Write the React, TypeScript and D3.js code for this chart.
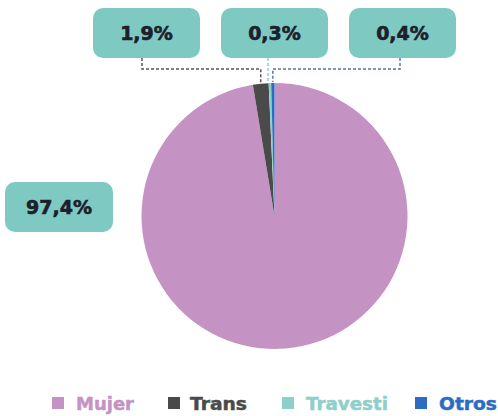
import React from "react";
import * as d3 from "d3";

const categories = ["Mujer", "Trans", "Travesti", "Otros"];
const values = [97.4, 1.9, 0.3, 0.4];
const valueLabels = ["97,4%", "1,9%", "0,3%", "0,4%"];
const colors = ["#c593c3", "#4a4a4a", "#8dd0ca", "#2b6dc2"];
const lineColors = ["#000000", "#555555", "#8dd0ca", "#5a74a8"];

const W = 498;
const H = 416;
const cx = 274.5;
const cy = 216;
const R = 133;

// label boxes (layout)
const boxes = [
  { x: 5, y: 182, w: 108, h: 50, anchorX: null as number | null },
  { x: 93, y: 8, w: 107, h: 50, anchorX: 142 },
  { x: 221, y: 8, w: 107, h: 50, anchorX: 268 },
  { x: 349, y: 8, w: 107, h: 50, anchorX: 400 },
];
const legendSquareX = [52, 168, 282, 415];
const legendTextX = [76, 190, 306, 439];
const legendTextW = [58, 57, 82, 58];

export default function App() {
  const pie = d3
    .pie<number>()
    .sort(null)
    .value((d) => d)
    .startAngle(0)
    .endAngle(2 * Math.PI);
  const arcs = pie(values);
  const arc = d3.arc<d3.PieArcDatum<number>>().innerRadius(0).outerRadius(R);
  const font = "'DejaVu Sans', sans-serif";
  const elbowY = 69;

  return (
    <svg
      width={W}
      height={H}
      style={{ position: "absolute", left: 0, top: 0, background: "#fff" }}
    >
      <g transform={`translate(${cx},${cy})`}>
        {arcs.map((a, i) => (
          <path key={i} d={arc(a) || ""} fill={colors[i]} />
        ))}
      </g>
      {arcs.map((a, i) => {
        const b = boxes[i];
        if (b.anchorX == null) return null;
        const mid = (a.startAngle + a.endAngle) / 2;
        const ex = cx + R * Math.sin(mid);
        const ey = cy - R * Math.cos(mid) - 1;
        const pts =
          Math.abs(b.anchorX - ex) < 3
            ? `${b.anchorX},${b.y + b.h} ${b.anchorX},${ey}`
            : `${b.anchorX},${b.y + b.h} ${b.anchorX},${elbowY} ${ex},${elbowY} ${ex},${ey}`;
        return (
          <polyline
            key={"l" + i}
            points={pts}
            fill="none"
            stroke={lineColors[i]}
            strokeWidth={1.5}
            strokeDasharray="3,2"
          />
        );
      })}
      {boxes.map((b, i) => (
        <g key={"b" + i}>
          <rect x={b.x} y={b.y} width={b.w} height={b.h} rx={10} ry={10} fill="#7fc9c3" />
          <text
            x={b.x + b.w / 2}
            y={b.y + b.h / 2 + 7}
            textAnchor="middle"
            fontFamily={font}
            fontWeight="bold"
            fontSize={19}
            fill="#1c202b"
            stroke="#1c202b"
            strokeWidth={0.6}
          >
            {valueLabels[i]}
          </text>
        </g>
      ))}
      {categories.map((c, i) => (
        <g key={"lg" + i}>
          <rect x={legendSquareX[i]} y={397} width={12} height={12} fill={colors[i]} />
          <text
            x={legendTextX[i]}
            y={410}
            fontFamily={font}
            fontWeight="bold"
            fontSize={18.5}
            fill={colors[i]}
            stroke={colors[i]}
            strokeWidth={0.5}
            textLength={legendTextW[i]}
            lengthAdjust="spacingAndGlyphs"
          >
            {c}
          </text>
        </g>
      ))}
    </svg>
  );
}
